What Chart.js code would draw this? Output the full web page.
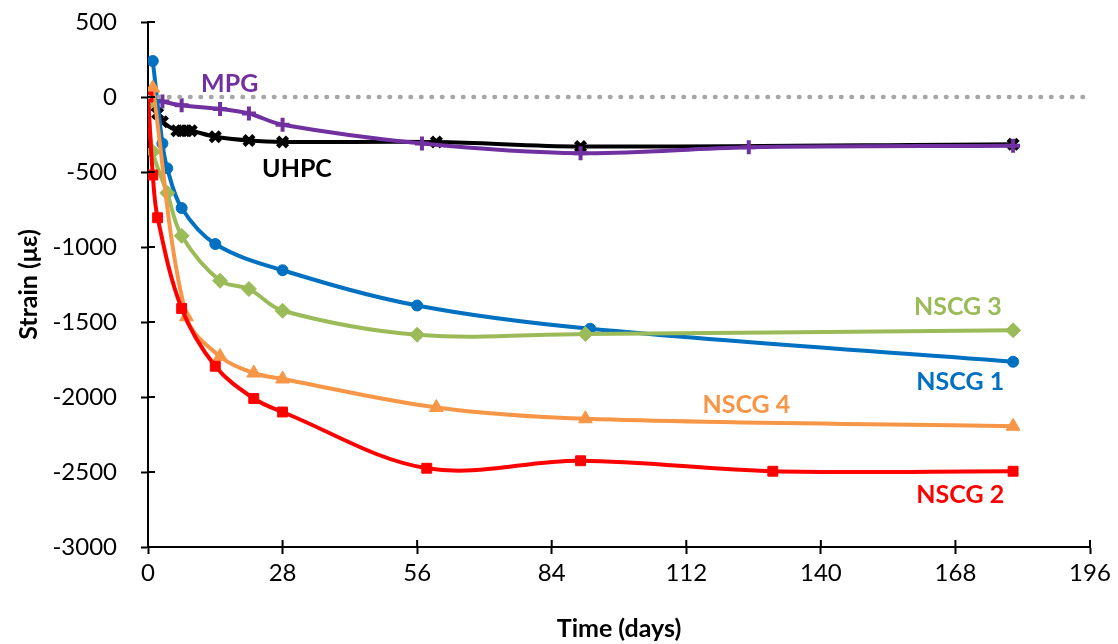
<!DOCTYPE html>
<html>
<head>
<meta charset="utf-8">
<script src="https://cdn.jsdelivr.net/npm/chart.js@4"></script>
<style>
  html, body { margin: 0; padding: 0; background: #fff; }
  #wrap { width: 1118px; height: 644px; }
</style>
</head>
<body>
<div id="wrap"><canvas id="chart" width="1118" height="644"></canvas></div>
<script>
// time (days) and strain (microstrain) for each specimen
const nscg1Days = [1, 3, 4, 7, 14, 28, 56, 92, 180];
const nscg1Strain = [240, -310, -475, -740, -980, -1155, -1390, -1545, -1765];

const nscg2Days = [0, 1, 2, 7, 14, 22, 28, 58, 90, 130, 180];
const nscg2Strain = [0, -520, -805, -1410, -1795, -2010, -2100, -2475, -2425, -2495, -2495];

const nscg3Days = [0, 1, 4, 7, 15, 21, 28, 56, 91, 180];
const nscg3Strain = [-50, -365, -640, -925, -1225, -1280, -1425, -1585, -1580, -1555];

const nscg4Days = [1, 8, 15, 22, 28, 60, 91, 180];
const nscg4Strain = [60, -1465, -1730, -1840, -1880, -2070, -2145, -2195];

const mpgDays = [0, 3, 7, 15, 21, 28, 57, 90, 125, 180];
const mpgStrain = [0, -30, -55, -80, -110, -185, -310, -375, -335, -325];

const uhpcDays = [0, 1, 2, 3, 6, 7, 8, 9, 14, 21, 28, 60, 90, 180];
const uhpcStrain = [-20, -60, -110, -165, -225, -225, -225, -225, -265, -290, -300, -300, -330, -315];

const xTicks = [0, 28, 56, 84, 112, 140, 168, 196];
const yTicks = [500, 0, -500, -1000, -1500, -2000, -2500, -3000];

// series name labels: text, day, strain
const seriesLabels = [
    ["MPG", 17, 88, "#7030A0"],
    ["UHPC", 31, -480, "#000000"],
    ["NSCG 3", 168.5, -1400, "#9BBB59"],
    ["NSCG 1", 169, -1900, "#0070C0"],
    ["NSCG 4", 124.5, -2050, "#F79646"],
    ["NSCG 2", 169, -2650, "#FF0000"]
];

function pts(days, vals) {
    return days.map((d, i) => ({ x: d, y: vals[i] }));
}

const FONT = "Lato, 'Open Sans', sans-serif";

function series(label, days, vals, color, style, radius, bw) {
    return {
        label: label,
        data: pts(days, vals),
        borderColor: color,
        backgroundColor: color,
        borderWidth: 4,
        tension: 0.35,
        pointStyle: style,
        pointRadius: radius,
        pointBorderWidth: bw,
        pointBorderColor: color,
        pointBackgroundColor: color
    };
}

const innerTicks = {
    id: "innerTicks",
    afterDraw(chart) {
        const ctx = chart.ctx;
        const xs = chart.scales.x;
        const ys = chart.scales.y;
        const area = chart.chartArea;
        ctx.save();
        ctx.strokeStyle = "#000";
        ctx.lineWidth = 2;
        ctx.beginPath();
        yTicks.forEach(v => {
            const y = ys.getPixelForValue(v);
            ctx.moveTo(area.left, y);
            ctx.lineTo(area.left + 7, y);
        });
        xTicks.forEach(v => {
            const x = xs.getPixelForValue(v);
            ctx.moveTo(x, area.bottom);
            ctx.lineTo(x, area.bottom - 7);
        });
        ctx.stroke();

        ctx.font = "bold 25px " + FONT;
        ctx.textAlign = "center";
        ctx.textBaseline = "middle";
        seriesLabels.forEach(([t, d, s, c]) => {
            ctx.fillStyle = c;
            ctx.fillText(t, xs.getPixelForValue(d), ys.getPixelForValue(s));
        });
        ctx.restore();
    }
};

const ctx = document.getElementById("chart").getContext("2d");

new Chart(ctx, {
    type: "line",
    data: {
        datasets: [
            {
                label: "zero",
                data: pts([0, 196], [0, 0]),
                borderColor: "#A6A6A6",
                borderWidth: 4.5,
                borderDash: [0.5, 10],
                borderCapStyle: "round",
                pointRadius: 0,
                tension: 0
            },
            series("NSCG 2", nscg2Days, nscg2Strain, "#FF0000", "rect", 7, 1),
            series("NSCG 4", nscg4Days, nscg4Strain, "#F79646", "triangle", 8, 1),
            series("NSCG 3", nscg3Days, nscg3Strain, "#9BBB59", "rectRot", 7.5, 1),
            series("NSCG 1", nscg1Days, nscg1Strain, "#0070C0", "circle", 5.5, 1),
            series("MPG", mpgDays, mpgStrain, "#7030A0", "cross", 7, 4),
            series("UHPC", uhpcDays, uhpcStrain, "#000000", "crossRot", 7, 4.5)
        ]
    },
    options: {
        responsive: false,
        animation: false,
        layout: { padding: { top: 22, right: 28, left: 14, bottom: 0 } },
        plugins: {
            legend: { display: false },
            tooltip: { enabled: false }
        },
        scales: {
            x: {
                type: "linear",
                min: 0,
                max: 196,
                afterBuildTicks(scale) {
                    scale.ticks = xTicks.map(v => ({ value: v }));
                },
                afterFit(scale) { scale.height = 97; },
                grid: {
                    drawOnChartArea: false,
                    drawTicks: true,
                    tickLength: 7,
                    tickWidth: 2,
                    tickColor: "#000"
                },
                border: { color: "#000", width: 2 },
                ticks: {
                    color: "#000",
                    font: { family: FONT, size: 24 },
                    padding: 5,
                    maxRotation: 0,
                    callback: v => String(v)
                },
                title: {
                    display: true,
                    text: "Time (days)",
                    color: "#000",
                    font: { family: FONT, size: 25, weight: "bold" },
                    padding: { top: 4, bottom: 0 }
                }
            },
            y: {
                type: "linear",
                min: -3000,
                max: 500,
                afterBuildTicks(scale) {
                    scale.ticks = yTicks.map(v => ({ value: v }));
                },
                afterFit(scale) {
                    scale.width = 134;
                    scale.paddingTop = 0;
                    scale.paddingBottom = 0;
                },
                grid: {
                    drawOnChartArea: false,
                    drawTicks: true,
                    tickLength: 7,
                    tickWidth: 2,
                    tickColor: "#000"
                },
                border: { color: "#000", width: 2 },
                ticks: {
                    color: "#000",
                    font: { family: FONT, size: 24 },
                    padding: 24,
                    callback: v => String(v)
                },
                title: {
                    display: true,
                    text: "Strain (με)",
                    color: "#000",
                    font: { family: FONT, size: 25, weight: "bold" },
                    padding: { top: 0, bottom: 0 }
                }
            }
        }
    },
    plugins: [innerTicks]
});
</script>
</body>
</html>
